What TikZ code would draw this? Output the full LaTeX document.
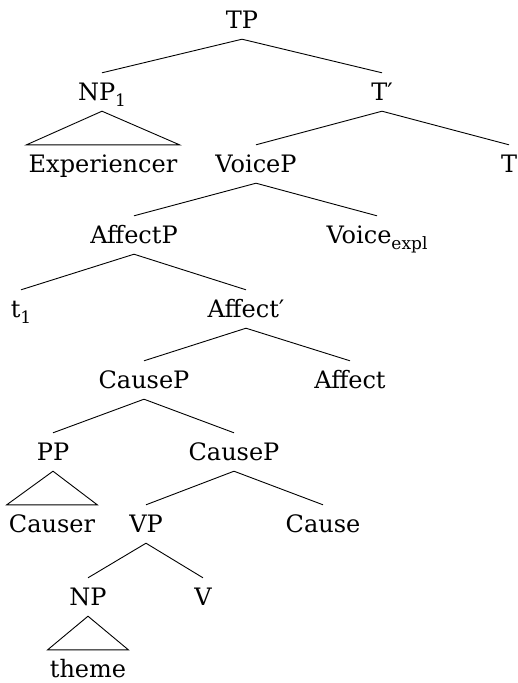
\documentclass[tikz,border=0pt]{standalone}
\usepackage{fontspec}
\setmainfont{DejaVu Serif}
% lowered, smaller index for labels such as NP_1
\newcommand\lowsub[1]{\raisebox{-6pt}{\fontsize{17}{17}\selectfont #1}}
\begin{document}
\begin{tikzpicture}[x=1pt,y=-1pt,
  every node/.style={font=\fontsize{24}{28}\selectfont,
    text height=18pt, text depth=2pt, inner ysep=9pt, inner xsep=2pt,
    anchor=base},
  branch/.style={line width=0.9pt},
  roof/.style={line width=0.9pt, line join=miter}]
\useasboundingbox (0,0) rectangle (518,683);

% labels, placed by centre and baseline
\node (TP)      at (242,28)  {TP};
\node (NPa)     at (102,100) {NP\lowsub{1}};
\node (Tbar)    at (382,100) {T′};
\node (Exp)     at (103,172) {Experiencer};
\node (VoiceP)  at (256,172) {VoiceP};
\node (T)       at (509,172) {T};
\node (AffectP) at (134,243) {AffectP};
\node (Voice)   at (377,243) {Voice\lowsub{expl}};
\node (t)       at (21,317)  {t\lowsub{1}};
\node (Affbar)  at (246,317) {Affect′};
\node (CauseP)  at (144,388) {CauseP};
\node (Affect)  at (350,388) {Affect};
\node (PP)      at (53,460)  {PP};
\node (CausePb) at (234,460) {CauseP};
\node (Causer)  at (52,532)  {Causer};
\node (VP)      at (146,532) {VP};
\node (Cause)   at (323,532) {Cause};
\node (NP)      at (88,605)  {NP};
\node (V)       at (203,605) {V};
\node (theme)   at (88,677)  {theme};

% branches
\draw[branch] (TP.south) -- (NPa.north);
\draw[branch] (TP.south) -- (Tbar.north);
\draw[branch] (Tbar.south) -- (VoiceP.north);
\draw[branch] (Tbar.south) -- (T.north);
\draw[branch] (VoiceP.south) -- (AffectP.north);
\draw[branch] (VoiceP.south) -- (Voice.north);
\draw[branch] (AffectP.south) -- (t.north);
\draw[branch] (AffectP.south) -- (Affbar.north);
\draw[branch] (Affbar.south) -- (CauseP.north);
\draw[branch] (Affbar.south) -- (Affect.north);
\draw[branch] (CauseP.south) -- (PP.north);
\draw[branch] (CauseP.south) -- (CausePb.north);
\draw[branch] (CausePb.south) -- (VP.north);
\draw[branch] (CausePb.south) -- (Cause.north);
\draw[branch] (VP.south) -- (NP.north);
\draw[branch] (VP.south) -- (V.north);

% triangles over unanalysed phrases
\draw[roof] (NPa.south) -- (Exp.north west) -- (Exp.north east) -- cycle;
\draw[roof] (PP.south) -- (Causer.north west) -- (Causer.north east) -- cycle;
\draw[roof] (NP.south) -- (theme.north west) -- (theme.north east) -- cycle;
\end{tikzpicture}
\end{document}
